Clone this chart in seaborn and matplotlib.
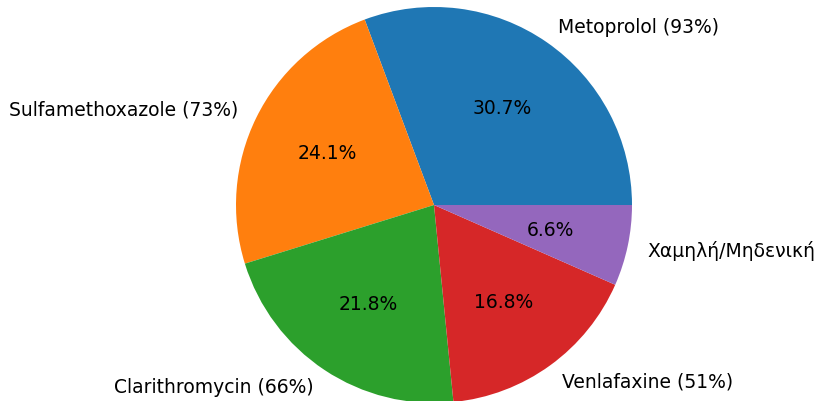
import matplotlib
matplotlib.use("Agg")
import matplotlib.pyplot as plt
import seaborn as sns

labels = ["Metoprolol (93%)", "Sulfamethoxazole (73%)", "Clarithromycin (66%)",
          "Venlafaxine (51%)", "Χαμηλή/Μηδενική"]
values = [93, 73, 66, 51, 20]

colors = sns.color_palette("tab10", len(values))

fig = plt.figure(figsize=(8.18, 4.02), dpi=100)
ax = fig.add_axes([0, 0, 1, 1])
ax.pie(values, labels=labels, colors=colors, autopct="%1.1f%%",
       textprops={"fontsize": 13.5})

# place the pie: centre at (434, 206) px, radius 198 px
r = 198
ax.set_xlim(-434 / r, (818 - 434) / r)
ax.set_ylim(-(402 - 206) / r, 206 / r)
ax.set_aspect("equal")
ax.axis("off")

fig.savefig("out.png", dpi=100)
